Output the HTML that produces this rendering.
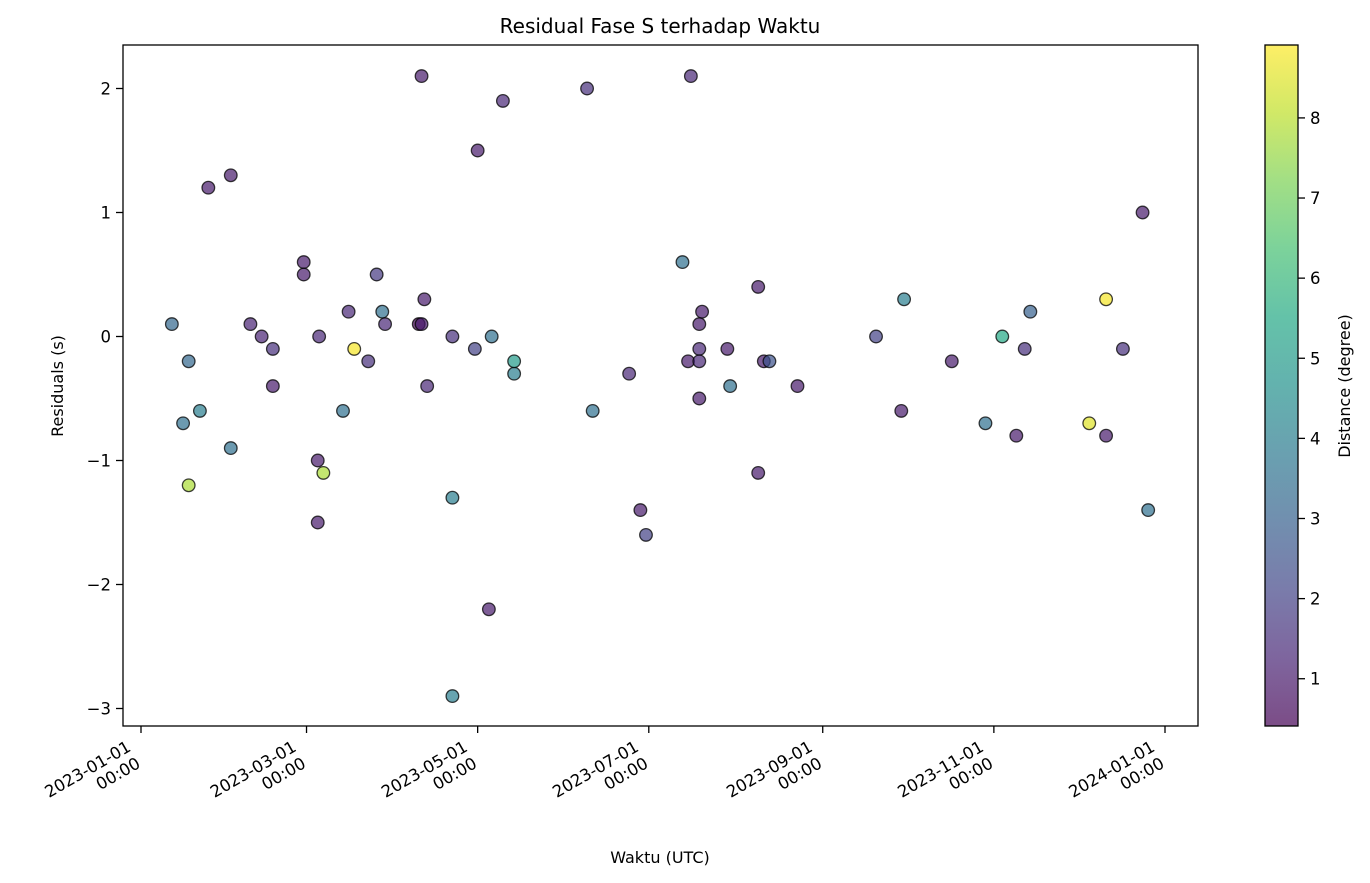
<!DOCTYPE html>
<html><head><meta charset="utf-8"><style>body{margin:0;background:#fff}svg{display:block;font-family:"DejaVu Sans","Liberation Sans",sans-serif}</style></head>
<body>
<svg id="chart" width="1370" height="883" xmlns="http://www.w3.org/2000/svg">
<defs><linearGradient id="vir" x1="0" y1="1" x2="0" y2="0">
<stop offset="0" stop-color="#440154"/><stop offset="0.1" stop-color="#482475"/><stop offset="0.2" stop-color="#414487"/><stop offset="0.3" stop-color="#355f8d"/><stop offset="0.4" stop-color="#2a788e"/><stop offset="0.5" stop-color="#21918c"/><stop offset="0.6" stop-color="#22a884"/><stop offset="0.7" stop-color="#44bf70"/><stop offset="0.8" stop-color="#7ad151"/><stop offset="0.9" stop-color="#bddf26"/><stop offset="1" stop-color="#fde725"/></linearGradient></defs>
<text x="660" y="33" font-size="20" text-anchor="middle">Residual Fase S terhadap Waktu</text>
<g id="points"></g>
<g id="axes"></g>
<rect x="123" y="45" width="1075" height="681" fill="none" stroke="#000" stroke-width="1.3"/>
<text x="660" y="863" font-size="16" text-anchor="middle">Waktu (UTC)</text>
<text transform="translate(63,386) rotate(-90)" font-size="16" text-anchor="middle">Residuals (s)</text>
<rect x="1265" y="45" width="33" height="681" fill="url(#vir)" fill-opacity="0.7" stroke="#000" stroke-width="1.3"/>
<g id="cbar"></g>
<text transform="translate(1350,386) rotate(-90)" font-size="16" text-anchor="middle">Distance (degree)</text>
</svg>
<script>
const days=[11,15,17,17,21,24,32,32,39,43,47,47,58,58,63,63.5,63,65,72,74,76,81,84,86,87,99,100,100,101,102,111,111,111,119,120,124,125,129,133,133,159,161,174,178,180,193,195,196,199,199,199,199,200,209,210,220,220,222,224,234,262,271,272,289,301,307,312,315,317,338,344,344,350,357,359];
const residuals=[0.1,-0.7,-0.2,-1.2,-0.6,1.2,1.3,-0.9,0.1,0,-0.1,-0.4,0.6,0.5,-1.0,0,-1.5,-1.1,-0.6,0.2,-0.1,-0.2,0.5,0.2,0.1,0.1,2.1,0.1,0.3,-0.4,0,-1.3,-2.9,-0.1,1.5,-2.2,0,1.9,-0.3,-0.2,2.0,-0.6,-0.3,-1.4,-1.6,0.6,-0.2,2.1,-0.1,-0.2,-0.5,0.1,0.2,-0.1,-0.4,0.4,-1.1,-0.2,-0.2,-0.4,0,-0.6,0.3,-0.2,-0.7,0,-0.8,-0.1,0.2,-0.7,0.3,-0.8,-0.1,1.0,-1.4];
const distance=[3.2,3.5,3.2,7.8,4,1,1,3.5,1.2,1.2,1.5,1,1,1,1,1.3,1,7.8,3.5,1.3,8.8,1.5,1.8,3.5,1.3,0.5,1,1,1,1.3,1.5,4,4,2,1,1,3.5,1.3,4,5,1.5,3.5,1.3,1,2,3.5,1,1.3,1.3,1.3,1,1,1,1,3.5,1,1,1,2.5,1,2,1,4,1,3.5,5.5,1,1.5,3,8.5,8.8,1,1.5,1,3.5];
const xTickDays=[0,59,120,181,243,304,365];
const xTickLabels=["2023-01-01","2023-03-01","2023-05-01","2023-07-01","2023-09-01","2023-11-01","2024-01-01"];
const yTicks=[2,1,0,-1,-2,-3];
const cTicks=[1,2,3,4,5,6,7,8];
const NS="http://www.w3.org/2000/svg";
const xS=d=>141+d*1024/365, yS=v=>336.5-v*124;
const cMin=0.41,cMax=8.91, cY=v=>726-(v-cMin)/(cMax-cMin)*681;
const vir=["#440154","#482475","#414487","#355f8d","#2a788e","#21918c","#22a884","#44bf70","#7ad151","#bddf26","#fde725"];
function hex(h){return [1,3,5].map(i=>parseInt(h.substr(i,2),16));}
function color(v){let t=Math.max(0,Math.min(1,(v-cMin)/(cMax-cMin)))*10;let i=Math.min(9,Math.floor(t)),f=t-i;let a=hex(vir[i]),b=hex(vir[i+1]);return "rgb("+a.map((c,k)=>Math.round(c+(b[k]-c)*f)).join(",")+")";}
function mk(tag,attrs,parent){const e=document.createElementNS(NS,tag);for(const k in attrs)e.setAttribute(k,attrs[k]);parent.appendChild(e);return e;}
const pts=document.getElementById('points'),ax=document.getElementById('axes'),cb=document.getElementById('cbar');
days.forEach((d,i)=>{const c=mk('circle',{cx:xS(d),cy:yS(residuals[i]),r:6.3,fill:color(distance[i]),'fill-opacity':0.7,stroke:'#000','stroke-opacity':0.75,'stroke-width':1.3},pts);

});
xTickDays.forEach((d,i)=>{const x=xS(d);const l=mk('line',{x1:x,x2:x,y1:726,y2:733,stroke:'#000','stroke-width':1.3},ax);


const g=mk('g',{transform:`translate(${x-16},738) rotate(-30)`},ax);


const t1=mk('text',{x:0,y:14,'font-size':16.5,'text-anchor':'end'},g);t1.textContent=xTickLabels[i];
const t2=mk('text',{x:0,y:33,'font-size':16.5,'text-anchor':'end'},g);t2.textContent="00:00";});
yTicks.forEach(v=>{const y=yS(v);const l=mk('line',{x1:116,x2:123,y1:y,y2:y,stroke:'#000','stroke-width':1.3},ax);


const t=mk('text',{x:111,y:y+6,'font-size':16.5,'text-anchor':'end'},ax);t.textContent=(v<0?"\u2212"+(-v):v);

});
cTicks.forEach(v=>{const y=cY(v);const l=mk('line',{x1:1298,x2:1305,y1:y,y2:y,stroke:'#000','stroke-width':1.3},cb);


const t=mk('text',{x:1310,y:y+6,'font-size':16.5},cb);t.textContent=v;

});
</script>
</body></html>
